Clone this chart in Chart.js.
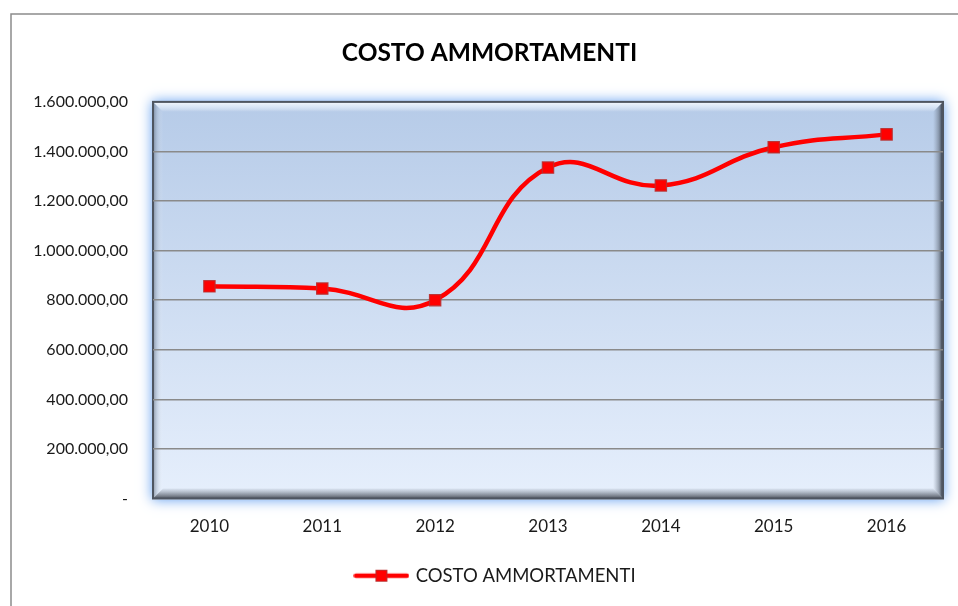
<!DOCTYPE html>
<html>
<head>
<meta charset="utf-8">
<title>COSTO AMMORTAMENTI</title>
<script src="https://cdn.jsdelivr.net/npm/chart.js@4.4.1/dist/chart.umd.min.js"></script>
<style>
  html, body { margin: 0; padding: 0; background: #ffffff; }
  #wrap { width: 958px; height: 606px; position: relative; }
</style>
</head>
<body>
<div id="wrap"><canvas id="chart" width="958" height="606"></canvas></div>
<script>
// Annual depreciation cost, 2010-2016
const years = ['2010', '2011', '2012', '2013', '2014', '2015', '2016'];
const costs = [856000, 847000, 800000, 1335000, 1263000, 1417000, 1469000];
const yTickValues = [0, 200000, 400000, 600000, 800000, 1000000, 1200000, 1400000, 1600000];
const seriesName = 'COSTO AMMORTAMENTI';
const chartTitle = 'COSTO AMMORTAMENTI';

const FONT = 'Lato, "Open Sans", "DejaVu Sans", sans-serif';

// Italian number format: 1.600.000,00 ; zero shown as a dash
function itNumber(v) {
  if (v === 0) return '-';
  const parts = Math.abs(v).toFixed(2).split('.');
  return parts[0].replace(/\B(?=(\d{3})+(?!\d))/g, '.') + ',' + parts[1];
}

// Legend symbol: line with a square marker
const legendMark = document.createElement('canvas');
legendMark.width = 56; legendMark.height = 14;
(function () {
  const c = legendMark.getContext('2d');
  c.strokeStyle = '#ff0000'; c.lineWidth = 4.5; c.lineCap = 'round';
  c.beginPath(); c.moveTo(2.5, 7); c.lineTo(53.5, 7); c.stroke();
  c.fillStyle = '#ff0000'; c.fillRect(22.5, 1.5, 11, 11);
  c.strokeStyle = 'rgba(180,40,40,0.9)'; c.lineWidth = 1; c.strokeRect(22.5, 1.5, 11, 11);
})();

// The chart object is wider than the visible canvas, so the title and
// legend are centred on a span that starts further right.
const centrePlugin = {
  id: 'centreBlocks',
  afterUpdate(chart) {
    if (chart.titleBlock) chart.titleBlock.left = 36;
    if (chart.legend) {
      chart.legend.left = 49;
      chart.legend.adjustHitBoxes();
    }
  }
};

// Outer chart border, bevelled plot panel with glow
const panelPlugin = {
  id: 'panel',
  beforeDraw(chart) {
    const ctx = chart.ctx;
    const { left: L, top: T, right: R, bottom: B } = chart.chartArea;
    ctx.save();
    ctx.fillStyle = '#ffffff';
    ctx.fillRect(0, 0, chart.width, chart.height);

    // outer frame of the chart object
    ctx.strokeStyle = '#8c8c8c';
    ctx.lineWidth = 1.5;
    ctx.beginPath();
    ctx.moveTo(11, chart.height + 2); ctx.lineTo(11, 14); ctx.lineTo(chart.width + 2, 14);
    ctx.stroke();

    // panel with blue glow
    const bg = ctx.createLinearGradient(0, T, 0, B);
    bg.addColorStop(0, '#b6cbe8');
    bg.addColorStop(1, '#e6effc');
    ctx.shadowColor = 'rgba(100,160,240,1)';
    ctx.shadowBlur = 12;
    ctx.fillStyle = bg;
    ctx.fillRect(L - 1, T - 1, R - L + 2, B - T + 2);
    ctx.shadowBlur = 0;
    ctx.shadowColor = 'transparent';
    ctx.fillStyle = bg;
    ctx.fillRect(L, T, R - L, B - T);

    const b = 10;
    // top bevel (highlight)
    let g = ctx.createLinearGradient(0, T, 0, T + b);
    g.addColorStop(0, 'rgba(255,255,255,0.85)');
    g.addColorStop(0.5, 'rgba(240,246,255,0.6)');
    g.addColorStop(1, 'rgba(255,255,255,0)');
    ctx.fillStyle = g;
    ctx.beginPath(); ctx.moveTo(L, T); ctx.lineTo(R, T); ctx.lineTo(R - b, T + b); ctx.lineTo(L + b, T + b); ctx.closePath(); ctx.fill();
    // left bevel
    g = ctx.createLinearGradient(L, 0, L + b, 0);
    g.addColorStop(0, 'rgba(70,80,95,0.55)');
    g.addColorStop(0.4, 'rgba(150,165,185,0.35)');
    g.addColorStop(1, 'rgba(255,255,255,0)');
    ctx.fillStyle = g;
    ctx.beginPath(); ctx.moveTo(L, T); ctx.lineTo(L + b, T + b); ctx.lineTo(L + b, B - b); ctx.lineTo(L, B); ctx.closePath(); ctx.fill();
    // right bevel (shadow)
    g = ctx.createLinearGradient(R - b, 0, R, 0);
    g.addColorStop(0, 'rgba(120,130,145,0)');
    g.addColorStop(0.6, 'rgba(90,100,115,0.55)');
    g.addColorStop(1, 'rgba(25,30,40,0.95)');
    ctx.fillStyle = g;
    ctx.beginPath(); ctx.moveTo(R, T); ctx.lineTo(R, B); ctx.lineTo(R - b, B - b); ctx.lineTo(R - b, T + b); ctx.closePath(); ctx.fill();
    // bottom bevel (shadow)
    g = ctx.createLinearGradient(0, B - b, 0, B);
    g.addColorStop(0, 'rgba(150,160,175,0.15)');
    g.addColorStop(0.5, 'rgba(110,118,130,0.6)');
    g.addColorStop(1, 'rgba(60,65,75,0.9)');
    ctx.fillStyle = g;
    ctx.beginPath(); ctx.moveTo(L, B); ctx.lineTo(R, B); ctx.lineTo(R - b, B - b); ctx.lineTo(L + b, B - b); ctx.closePath(); ctx.fill();

    // dark edge
    ctx.strokeStyle = '#4e5560';
    ctx.lineWidth = 2;
    ctx.strokeRect(L, T, R - L, B - T);
    ctx.restore();
  }
};

new Chart(document.getElementById('chart'), {
  type: 'line',
  data: {
    labels: years,
    datasets: [{
      label: seriesName,
      data: costs,
      borderColor: '#ff0000',
      borderWidth: 4.5,
      tension: 0.45,
      pointStyle: 'rect',
      pointRadius: 8,
      pointBackgroundColor: '#ff0000',
      pointBorderColor: 'rgba(185,45,45,0.9)',
      pointBorderWidth: 1.2,
      fill: false
    }]
  },
  options: {
    responsive: false,
    animation: false,
    devicePixelRatio: 1,
    layout: { padding: { left: 0, right: 15, top: 0, bottom: 11 } },
    plugins: {
      tooltip: { enabled: false },
      title: {
        display: true,
        text: chartTitle,
        color: '#000000',
        font: { family: FONT, size: 24.5, weight: 'bold', lineHeight: 1.2 },
        padding: { top: 38.5, bottom: 34 }
      },
      legend: {
        display: true,
        position: 'bottom',
        labels: {
          color: '#1a1a1a',
          font: { family: FONT, size: 18.5 },
          usePointStyle: true,
          pointStyle: legendMark,
          pointStyleWidth: 50,
          padding: 10
        }
      }
    },
    scales: {
      x: {
        offset: true,
        grid: { display: false, drawTicks: false },
        border: { display: false },
        ticks: { color: '#1a1a1a', font: { family: FONT, size: 17 }, padding: 18, maxRotation: 0 },
        afterFit(scale) { scale.height = 58; }
      },
      y: {
        min: 0,
        max: 1600000,
        afterBuildTicks(scale) { scale.ticks = yTickValues.map(v => ({ value: v })); },
        grid: {
          drawTicks: false,
          lineWidth: 1.5,
          color: ctx => (ctx.tick && (ctx.tick.value === 0 || ctx.tick.value === 1600000)) ? 'rgba(0,0,0,0)' : '#8a8a8a'
        },
        border: { display: false },
        ticks: {
          color: '#1a1a1a',
          font: { family: FONT, size: 16 },
          padding: 25,
          callback: v => itNumber(v)
        },
        afterFit(scale) { scale.width = 153; }
      }
    }
  },
  plugins: [centrePlugin, panelPlugin]
});
</script>
</body>
</html>
